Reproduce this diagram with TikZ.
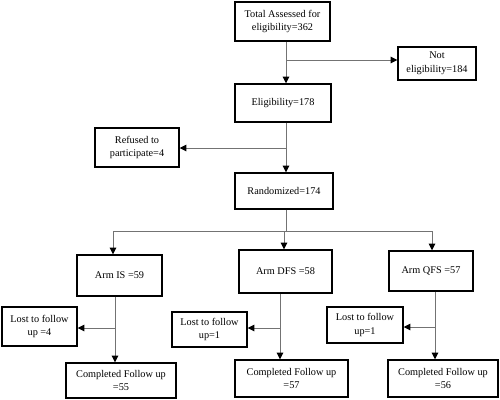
\documentclass[tikz,border=0pt]{standalone}
\usepackage{fontspec}
\setmainfont{Liberation Serif}
\usetikzlibrary{arrows.meta}
\begin{document}
\begin{tikzpicture}[x=0.75pt,y=-0.75pt,
  box/.style={draw=black,line width=1.1pt,fill=white,align=center,font=\fontsize{7.7}{10.3}\selectfont,inner sep=1pt},
  conn/.style={draw=black!55,line width=0.7pt},
  arr/.style={conn,-{Triangle[length=5pt,width=5pt,fill=black,color=black]}}]
\useasboundingbox (0,0) rectangle (500,400);
\node[box,minimum width=95*0.75pt,minimum height=39*0.75pt] (total) at (282.5,21.5) {Total Assessed for\\eligibility=362};
\node[box,minimum width=78*0.75pt,minimum height=33*0.75pt] (not) at (437,63.5) {Not\\eligibility=184};
\node[box,minimum width=96*0.75pt,minimum height=38*0.75pt] (elig) at (283,103) {Eligibility=178};
\node[box,minimum width=84*0.75pt,minimum height=39*0.75pt] (refused) at (137,147.5) {Refused to\\participate=4};
\node[box,minimum width=98*0.75pt,minimum height=36*0.75pt] (rand) at (284,191) {Randomized=174};
\node[box,minimum width=85*0.75pt,minimum height=41*0.75pt] (armis) at (119.5,275.5) {Arm IS =59};
\node[box,minimum width=93*0.75pt,minimum height=43*0.75pt] (armdfs) at (285.5,271.5) {Arm DFS =58};
\node[box,minimum width=84*0.75pt,minimum height=40*0.75pt] (armqfs) at (431,271) {Arm QFS =57};
\node[box,minimum width=75*0.75pt,minimum height=39*0.75pt] (lostis) at (39.5,326.5) {Lost to follow\\up =4};
\node[box,minimum width=75*0.75pt,minimum height=35*0.75pt] (lostdfs) at (209.5,329.5) {Lost to follow\\up=1};
\node[box,minimum width=76*0.75pt,minimum height=36*0.75pt] (lostqfs) at (365,325) {Lost to follow\\up=1};
\node[box,minimum width=110*0.75pt,minimum height=35*0.75pt] (compis) at (121,380.5) {Completed Follow up\\=55};
\node[box,minimum width=113*0.75pt,minimum height=37*0.75pt] (compdfs) at (291.5,378.5) {Completed Follow up\\=57};
\node[box,minimum width=110*0.75pt,minimum height=37*0.75pt] (compqfs) at (443,378.5) {Completed Follow up\\=56};
% branch points
\coordinate (b1) at (286,60);
\coordinate (b2) at (286,148);
\coordinate (h) at (286,231);
\coordinate (hl) at (113,231);
\coordinate (hm) at (284,231);
\coordinate (hr) at (432,231);
\coordinate (bis) at (115,328);
\coordinate (bdfs) at (280,328);
\coordinate (bqfs) at (435,327);
% connectors
\draw[arr] (total.south -| b1) -- (elig.north -| b1);
\draw[arr] (b1) -- (not.west |- b1);
\draw[arr] (elig.south -| b2) -- (rand.north -| b2);
\draw[arr] (b2) -- (refused.east |- b2);
\draw[conn] (rand.south -| h) -- (h);
\draw[conn] (hl) -- (hr);
\draw[arr] (hl) -- (armis.north -| hl);
\draw[arr] (hm) -- (armdfs.north -| hm);
\draw[arr] (hr) -- (armqfs.north -| hr);
\draw[arr] (armis.south -| bis) -- (compis.north -| bis);
\draw[arr] (bis) -- (lostis.east |- bis);
\draw[arr] (armdfs.south -| bdfs) -- (compdfs.north -| bdfs);
\draw[arr] (bdfs) -- (lostdfs.east |- bdfs);
\draw[arr] (armqfs.south -| bqfs) -- (compqfs.north -| bqfs);
\draw[arr] (bqfs) -- (lostqfs.east |- bqfs);
\end{tikzpicture}
\end{document}
